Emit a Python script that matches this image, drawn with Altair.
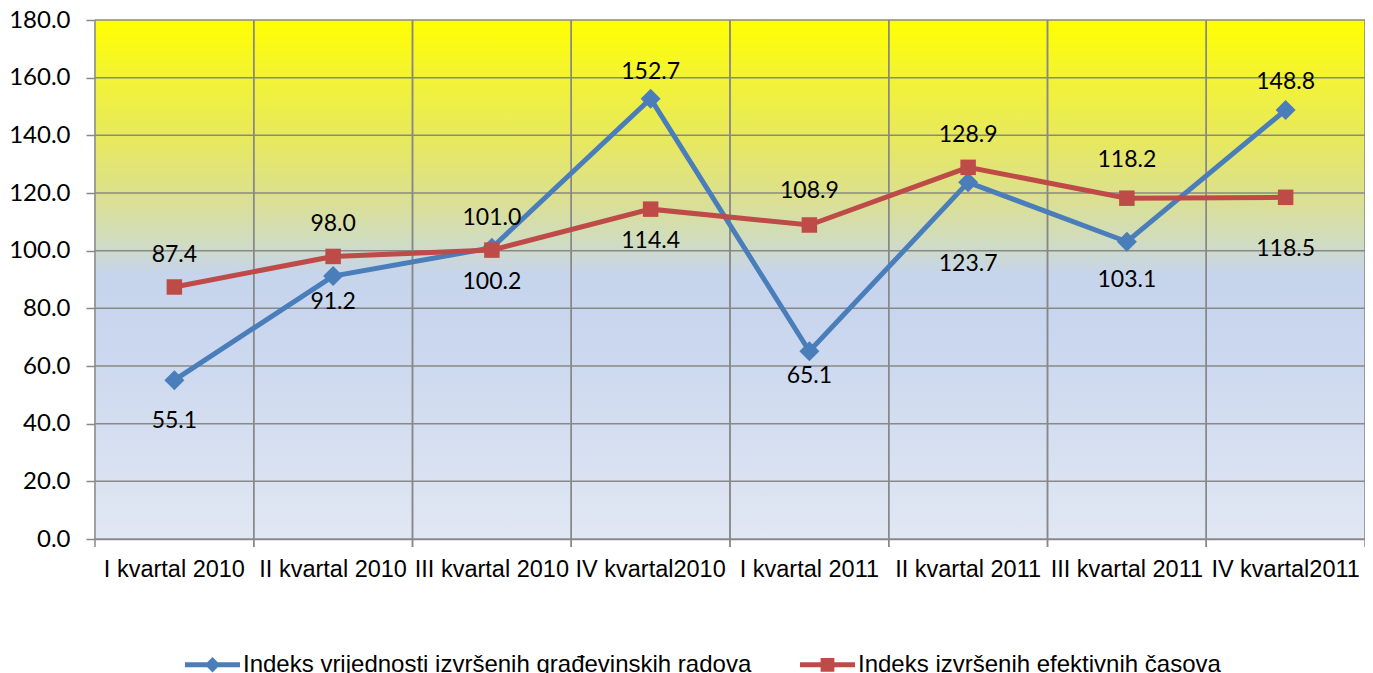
import altair as alt
import pandas as pd

categories = ["I kvartal 2010", "II kvartal 2010", "III kvartal 2010", "IV kvartal2010",
              "I kvartal 2011", "II kvartal 2011", "III kvartal 2011", "IV kvartal2011"]
series = ["Indeks vrijednosti izvršenih građevinskih radova", "Indeks izvršenih efektivnih časova"]
blue_values = [55.1, 91.2, 101.0, 152.7, 65.1, 123.7, 103.1, 148.8]
red_values = [87.4, 98.0, 100.2, 114.4, 108.9, 128.9, 118.2, 118.5]
y_ticks = [0, 20, 40, 60, 80, 100, 120, 140, 160, 180]

# label placement offsets (pixels, + = below the point)
blue_label_dy = [41, 26, -30, -27, 25, 82, 38, -28]
red_label_dy = [-32, -32, 32, 32, -34, -32, -38, 52]

BLUE = "#4A7EBB"
RED = "#BE4B48"
GRID = "#888888"

W, H = 1270, 519
YMAX = 180

df = pd.DataFrame({
    "kvartal": categories * 2,
    "serija": [series[0]] * len(categories) + [series[1]] * len(categories),
    "vrijednost": blue_values + red_values,
    "dy": blue_label_dy + red_label_dy,
})
df["label"] = df["vrijednost"].map(lambda v: f"{v:.1f}")
ticks_df = pd.DataFrame({"t": y_ticks})
cat_df = pd.DataFrame({"kvartal": categories})

xscale = alt.Scale(domain=categories, paddingInner=0, paddingOuter=0)
yscale = alt.Scale(domain=[0, YMAX], nice=False)

x_axis = alt.Axis(labelFont="Liberation Sans", labelFontSize=23.5, labelColor="black",
                  labelAngle=0, ticks=False, tickSize=0, bandPosition=0.5,
                  domainColor=GRID, domainWidth=1.5,
                  labelPadding=18, labelLimit=0, grid=False)
x_enc = alt.X("kvartal:N", sort=categories, scale=xscale, title=None, axis=x_axis)
y_enc = alt.Y("vrijednost:Q", scale=yscale, title=None,
              axis=alt.Axis(values=y_ticks, format=".1f", labelFont="Lato", labelFontSize=24,
                            labelColor="black", tickSize=9, tickColor=GRID, tickWidth=1.5,
                            domainColor=GRID, domainWidth=1.5, labelPadding=16, grid=False))

gradient = alt.Gradient(
    gradient="linear", x1=0, x2=0, y1=0, y2=1,
    stops=[
        alt.GradientStop(offset=0.0, color="#FFFF00"),
        alt.GradientStop(offset=0.12, color="#F2F238"),
        alt.GradientStop(offset=0.24, color="#E6E862"),
        alt.GradientStop(offset=0.34, color="#DCE08E"),
        alt.GradientStop(offset=0.43, color="#D0DCC2"),
        alt.GradientStop(offset=0.49, color="#C6D4EC"),
        alt.GradientStop(offset=0.62, color="#CAD7EE"),
        alt.GradientStop(offset=1.0, color="#E1E7F3"),
    ],
)

bg = alt.Chart(ticks_df).mark_rect(fill=gradient).encode(
    x=alt.value(0), x2=alt.value(W),
    y=alt.datum(YMAX, scale=yscale), y2=alt.datum(0),
)

hgrid = alt.Chart(ticks_df).mark_rule(color=GRID, strokeWidth=1.5).encode(
    y=alt.Y("t:Q", scale=yscale)
)
# vertical grid lines at band boundaries, extended below the axis as tick marks
vgrid_left = alt.Chart(cat_df).mark_rule(color=GRID, strokeWidth=1.5).encode(
    x=alt.X("kvartal:N", sort=categories, scale=xscale, bandPosition=0, axis=x_axis, title=None),
    y=alt.value(0), y2=alt.value(H + 8),
)
vgrid_right = alt.Chart(cat_df).mark_rule(color=GRID, strokeWidth=1.5).encode(
    x=alt.X("kvartal:N", sort=categories, scale=xscale, bandPosition=1, axis=x_axis, title=None),
    y=alt.value(0), y2=alt.value(H + 8),
)

base = alt.Chart(df)

layers = [bg, hgrid, vgrid_left, vgrid_right]
for name, col, shape, size in [(series[0], BLUE, "diamond", 400), (series[1], RED, "square", 240)]:
    sub = base.transform_filter(alt.datum.serija == name)
    layers.append(sub.mark_line(color=col, strokeWidth=5).encode(x=x_enc, y=y_enc))
    layers.append(sub.mark_point(shape=shape, filled=True, size=size, color=col, opacity=1).encode(
        x=x_enc, y=y_enc))

labels = base.transform_calculate(
    label_y=f"datum.vrijednost - datum.dy * {YMAX} / {H}"
).mark_text(font="Lato", fontSize=23, color="black", baseline="middle", align="center").encode(
    x=x_enc,
    y=alt.Y("label_y:Q", scale=yscale),
    text="label:N",
)
layers.append(labels)

line_diamond = "M-1,-0.09 H1 V0.09 H-1 Z M0,-0.28 L0.28,0 L0,0.28 L-0.28,0 Z"
line_square = "M-1,-0.09 H1 V0.09 H-1 Z M-0.25,-0.25 H0.25 V0.25 H-0.25 Z"

leg_kw = dict(orient="none", legendX=90, legendY=617, direction="horizontal", title=None,
              labelFont="Liberation Sans", labelFontSize=24, labelColor="black", labelLimit=0,
              symbolSize=3025, symbolStrokeWidth=0, labelOffset=3, columnPadding=48, padding=0)

legend_layer = base.transform_filter("false").mark_point(filled=True, opacity=1, size=3025, strokeWidth=0).encode(
    x=x_enc,
    y=y_enc,
    color=alt.Color("serija:N", scale=alt.Scale(domain=series, range=[BLUE, RED]), legend=alt.Legend(**leg_kw)),
    shape=alt.Shape("serija:N", scale=alt.Scale(domain=series, range=[line_diamond, line_square]), legend=alt.Legend(**leg_kw)),
)
layers.append(legend_layer)

chart = alt.layer(*layers).properties(
    width=W, height=H,
    autosize=alt.AutoSizeParams(type="none"),
    padding={"left": 87, "top": 12, "right": 0, "bottom": 134},
).configure_view(stroke=None)

chart.save("out.html", embed_options={"renderer": "svg", "actions": False})
